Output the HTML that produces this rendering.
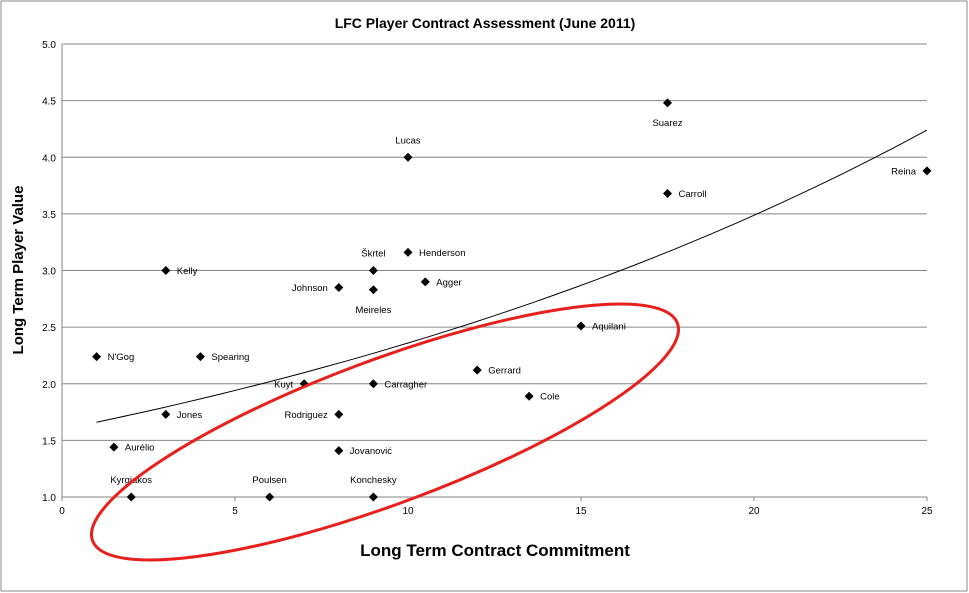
<!DOCTYPE html>
<html><head><meta charset="utf-8"><style>
body{margin:0;background:#fff;}
svg{display:block;font-family:"Liberation Sans","DejaVu Sans",sans-serif;}
</style></head><body>
<svg id="chart" width="969" height="593">
<rect x="1" y="1" width="966" height="590" fill="#fff" stroke="#888"/>
<text x="485" y="28" text-anchor="middle" font-size="14" font-weight="bold">LFC Player Contract Assessment (June 2011)</text>
<text x="495" y="556" text-anchor="middle" font-size="17" font-weight="bold">Long Term Contract Commitment</text>
<text transform="translate(23,270) rotate(-90)" text-anchor="middle" font-size="15" font-weight="bold">Long Term Player Value</text>
<g id="grid"></g><g id="axes"></g><g id="trend"></g><g id="pts"></g>
<ellipse cx="385" cy="432" rx="312" ry="72" transform="rotate(-20.4 385 432)" fill="none" stroke="#e8201c" stroke-width="3"/>
</svg>
<script>
const players=["Suarez","Lucas","Carroll","Reina","Škrtel","Henderson","Kelly","Johnson","Meireles","Agger","Aquilani","N'Gog","Spearing","Kuyt","Carragher","Gerrard","Cole","Jones","Rodriguez","Aurélio","Jovanović","Kyrgiakos","Poulsen","Konchesky"];
const contract=[17.5,10,17.5,25,9,10,3,8,9,10.5,15,1,4,7,9,12,13.5,3,8,1.5,8,2,6,9];
const value=[4.48,4.0,3.68,3.88,3.0,3.16,3.0,2.85,2.83,2.9,2.51,2.24,2.24,2.0,2.0,2.12,1.89,1.73,1.73,1.44,1.41,1.0,1.0,1.0];
const labelPos=["below","above","right","left","above","right","right","left","below","right","right","right","right","left","right","right","right","right","left","right","right","above","above","above"];
const xTicks=[0,5,10,15,20,25];
const yTicks=[1.0,1.5,2.0,2.5,3.0,3.5,4.0,4.5,5.0];
const trendX=[1,25];
const trendY=[1.66,4.24];
const NS="http://www.w3.org/2000/svg";
const X0=62,X1=927,Y0=497,Y1=44;
const sx=v=>X0+(v-0)/(25-0)*(X1-X0);
const sy=v=>Y0-(v-1)/(5-1)*(Y0-Y1);
function mk(t,a,p){const e=document.createElementNS(NS,t);for(const k in a)e.setAttribute(k,a[k]);p.appendChild(e);return e;}
const grid=document.getElementById('grid'),axes=document.getElementById('axes');
yTicks.forEach(v=>{
 const l=mk('line',{x1:X0,x2:X1,y1:sy(v),y2:sy(v),stroke:'#868686','stroke-width':1},grid);
 
 
 const t=mk('text',{x:X0-6,y:sy(v)+4,'text-anchor':'end','font-size':10},axes);t.textContent=v.toFixed(1);
 
 
});
xTicks.forEach(v=>{
 const t=mk('text',{x:sx(v),y:Y0+17,'text-anchor':'middle','font-size':10},axes);t.textContent=v;
 
 
 const k=mk('line',{x1:sx(v),x2:sx(v),y1:Y0,y2:Y0+4,stroke:'#868686'},axes);
 
 
});
const ya=mk('line',{x1:X0,x2:X0,y1:Y1,y2:Y0,stroke:'#868686'},axes);


// exponential trend through the two trend points
const b=Math.log(trendY[1]/trendY[0])/(trendX[1]-trendX[0]);
const a=trendY[0]/Math.exp(b*trendX[0]);
let d='';for(let i=0;i<=40;i++){const x=trendX[0]+(trendX[1]-trendX[0])*i/40;d+=(i?'L':'M')+sx(x).toFixed(1)+','+sy(a*Math.exp(b*x)).toFixed(1);}
const tr=mk('path',{d:d,fill:'none',stroke:'#000','stroke-width':1},document.getElementById('trend'));


const pts=document.getElementById('pts');
players.forEach((p,i)=>{
 const x=sx(contract[i]),y=sy(value[i]);
 const m=mk('path',{d:`M${x},${y-4.5}L${x+4.5},${y}L${x},${y+4.5}L${x-4.5},${y}Z`,fill:'#000'},pts);
 
 
 let tx=x,ty=y+3.5,an='start';
 const pos=labelPos[i];
 if(pos==='right'){tx=x+11;}
 else if(pos==='left'){tx=x-11;an='end';}
 else if(pos==='above'){ty=y-14;an='middle';}
 else {ty=y+23;an='middle';}
 const t=mk('text',{x:tx,y:ty,'text-anchor':an,'font-size':9.5},pts);t.textContent=p;
 
 
});
</script>
</body></html>
